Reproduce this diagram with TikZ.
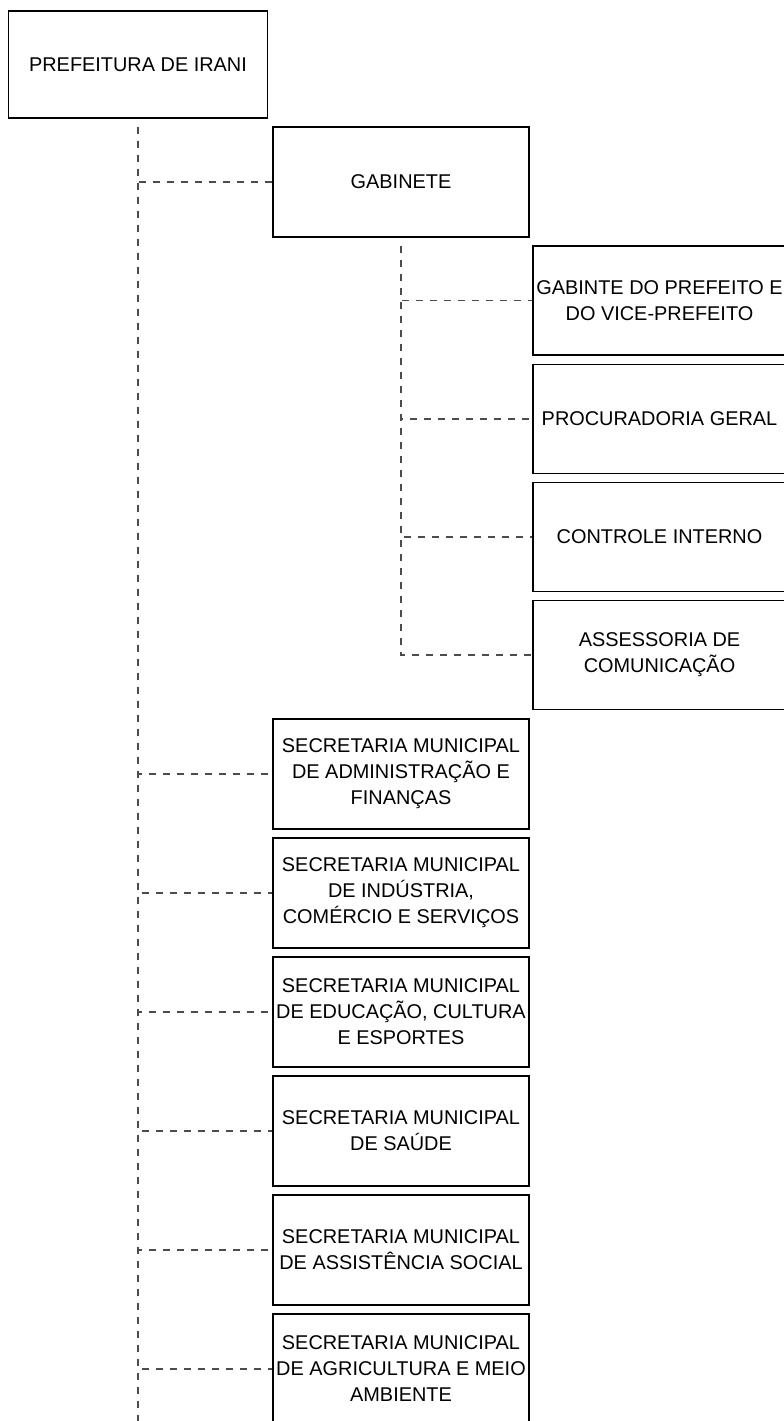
\documentclass[tikz,border=0pt]{standalone}
\usepackage{fontspec}
\setmainfont{Liberation Sans}
\begin{document}
\begin{tikzpicture}[x=1pt,y=-1pt,
  box/.style={draw=black, line width=1.7pt, fill=white, align=center, inner sep=0pt,
    font=\fontsize{19.9}{26}\selectfont},
  sec/.style={box, minimum width=256pt, minimum height=110pt},
  sub/.style={box, minimum width=253pt, minimum height=109pt},
  conn/.style={draw=black!70, line width=1.4pt, dash pattern=on 7pt off 7pt}]
\useasboundingbox (0,0) rectangle (784,1421);

\node[box, minimum width=259pt, minimum height=107pt] (top) at (138,64.5) {PREFEITURA DE IRANI};
\node[sec] (gab) at (401,182) {GABINETE};

\node[sub] (s1) at (659.5,300.5) {GABINTE DO PREFEITO E\\DO VICE-PREFEITO};
\node[sub] (s2) at (659.5,419) {PROCURADORIA GERAL};
\node[sub] (s3) at (659.5,537) {CONTROLE INTERNO};
\node[sub] (s4) at (659.5,655) {ASSESSORIA DE\\COMUNICAÇÃO};

\node[sec] (a1) at (401,774) {SECRETARIA MUNICIPAL\\DE ADMINISTRAÇÃO E\\FINANÇAS};
\node[sec] (a2) at (401,893) {SECRETARIA MUNICIPAL\\DE INDÚSTRIA,\\COMÉRCIO E SERVIÇOS};
\node[sec] (a3) at (401,1012) {SECRETARIA MUNICIPAL\\DE EDUCAÇÃO, CULTURA\\E ESPORTES};
\node[sec] (a4) at (401,1131) {SECRETARIA MUNICIPAL\\DE SAÚDE};
\node[sec] (a5) at (401,1250) {SECRETARIA MUNICIPAL\\DE ASSISTÊNCIA SOCIAL};
\node[sec] (a6) at (401,1369) {SECRETARIA MUNICIPAL\\DE AGRICULTURA E MEIO\\AMBIENTE};

\coordinate (trunkend) at (138,1440);

\foreach \c in {gab,a1,a2,a3,a4,a5,a6}
  \draw[conn] ([yshift=-8pt]top.south) |- (\c.west);
\draw[conn] ([yshift=-8pt]top.south) -- (trunkend);

\foreach \c in {s1,s2,s3,s4}
  \draw[conn] ([yshift=-8pt]gab.south) |- (\c.west);
\end{tikzpicture}
\end{document}
